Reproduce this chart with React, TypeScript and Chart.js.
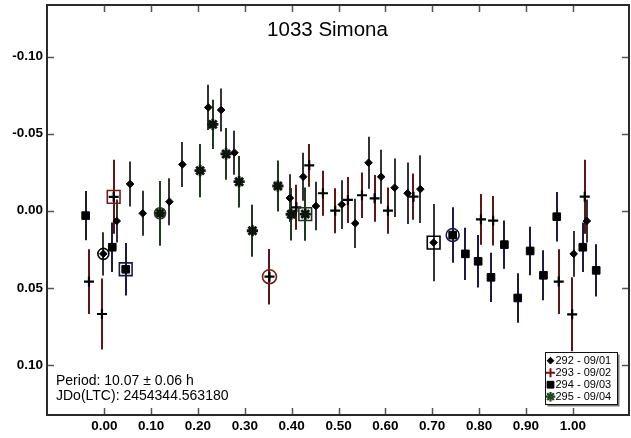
import React, { useEffect, useRef } from 'react';
import { Chart, registerables } from 'chart.js';
import { drawPoint } from 'chart.js/helpers';

Chart.register(...registerables);

// Session 292 (2007-09-01): rotational phase, relative magnitude, 1-sigma error
const phase292 = [-0.002, 0.0265, 0.055, 0.082, 0.139, 0.1667, 0.222, 0.2494, 0.2778, 0.396, 0.4246, 0.4517, 0.507, 0.5357, 0.564, 0.591, 0.6197, 0.6474, 0.6746, 0.703, 1.002, 1.03];
const mag292 = [0.028, 0.0067, -0.0173, 0.0017, -0.0058, -0.03, -0.067, -0.0653, -0.0376, -0.0082, -0.022, -0.003, -0.004, 0.0082, -0.0311, -0.022, -0.0149, -0.0113, -0.014, 0.0207, 0.028, 0.0067];
const err292 = [0.014, 0.014, 0.0146, 0.0146, 0.0152, 0.0146, 0.0146, 0.014, 0.0143, 0.0155, 0.0155, 0.0157, 0.0158, 0.016, 0.0168, 0.0175, 0.019, 0.02, 0.022, 0.025, 0.0148, 0.014];

// Session 293 (2007-09-02)
const phase293 = [-0.0327, -0.005, 0.02, 0.3526, 0.41, 0.4374, 0.4667, 0.4929, 0.52, 0.55, 0.577, 0.6055, 0.66, 0.804, 0.83, 0.97, 0.9987, 1.0256];
const mag293 = [0.046, 0.067, -0.009, 0.0428, -0.0022, -0.0294, -0.0113, 0.0, -0.007, -0.01, -0.008, 0.0, -0.0091, 0.0056, 0.0065, 0.046, 0.0672, -0.0091];
const err293 = [0.021, 0.023, 0.024, 0.018, 0.0146, 0.0138, 0.0146, 0.0146, 0.0149, 0.0148, 0.0151, 0.015, 0.015, 0.0165, 0.016, 0.021, 0.024, 0.024];

// Session 294 (2007-09-03)
const phase294 = [-0.0398, 0.017, 0.0457, 0.7436, 0.7707, 0.798, 0.8254, 0.854, 0.8825, 0.909, 0.9374, 0.9658, 1.0214, 1.05];
const mag294 = [0.0032, 0.0237, 0.038, 0.0158, 0.028, 0.0328, 0.0432, 0.022, 0.0566, 0.0261, 0.0419, 0.0039, 0.0237, 0.0387];
const err294 = [0.016, 0.016, 0.017, 0.018, 0.017, 0.017, 0.016, 0.0156, 0.016, 0.0157, 0.0162, 0.016, 0.016, 0.017];

// Session 295 (2007-09-04)
const phase295 = [0.119, 0.2045, 0.2316, 0.26, 0.2878, 0.3162, 0.3705, 0.399, 0.4289];
const mag295 = [0.0017, -0.026, -0.056, -0.0368, -0.0188, 0.013, -0.016, 0.0023, 0.0022];
const err295 = [0.021, 0.0173, 0.016, 0.0168, 0.0167, 0.0168, 0.0165, 0.017, 0.0173];

// Marked observations per session (index into each session's arrays)
const circledIndex = [0, 3, 3, 0];
const boxedIndex = [19, 2, 2, 8];

const sessionLabels = ['292 - 09/01', '293 - 09/02', '294 - 09/03', '295 - 09/04'];

const xTickValues = [0, 0.1, 0.2, 0.3, 0.4, 0.5, 0.6, 0.7, 0.8, 0.9, 1.0];
const yTickValues = [-0.1, -0.05, 0, 0.05, 0.1];

const titleText = '1033 Simona';
const periodText = 'Period: 10.07 \u00b1 0.06 h';
const epochText = 'JDo(LTC): 2454344.563180';

const FONT = "Arial, 'Liberation Sans', Helvetica, sans-serif";

const sessions = [
  { phase: phase292, mag: mag292, err: err292, barColor: '#333333', markColor: '#000000',
    style: { pointStyle: 'rectRot', radius: 3.8, backgroundColor: '#000', borderColor: '#000', borderWidth: 1 },
    legend: { pointStyle: 'rectRot', radius: 3.4, fill: '#000', stroke: '#000', lw: 1 }, circleR: 5.5 },
  { phase: phase293, mag: mag293, err: err293, barColor: '#5e1616', markColor: '#6e2020',
    style: { pointStyle: 'cross', radius: 5, backgroundColor: '#000', borderColor: '#000', borderWidth: 2.2 },
    legend: { pointStyle: 'cross', radius: 4.5, fill: '#7a1010', stroke: '#7a1010', lw: 2 }, circleR: 7 },
  { phase: phase294, mag: mag294, err: err294, barColor: '#1c1c42', markColor: '#1c1c42',
    style: { pointStyle: 'rect', radius: 5.4, backgroundColor: '#000', borderColor: '#000', borderWidth: 1 },
    legend: { pointStyle: 'rect', radius: 4.8, fill: '#000', stroke: '#000', lw: 1 }, circleR: 6.5 },
  { phase: phase295, mag: mag295, err: err295, barColor: '#1f3b1f', markColor: '#1f3b1f',
    style: { pointStyle: 'star', radius: 5.6, backgroundColor: '#0b150b', borderColor: '#0b150b', borderWidth: 2.8 },
    legend: { pointStyle: 'star', radius: 4.8, fill: '#1d4a1d', stroke: '#1d4a1d', lw: 2.2 }, circleR: 5.5 },
];

function toPoints(xs: number[], ys: number[]) {
  return xs.map((x, i) => ({ x, y: ys[i] }));
}

const fmt = (v: number) => (Math.abs(v) < 1e-9 ? '0.00' : v.toFixed(2));

const noScalePadding = (scale: any) => {
  scale.paddingLeft = 0;
  scale.paddingRight = 0;
  scale.paddingTop = 0;
  scale.paddingBottom = 0;
};

const decorations = {
  id: 'decorations',
  beforeDatasetsDraw(chart: any) {
    const { ctx, scales } = chart;
    const xs = scales.x;
    const ys = scales.y;
    chart.data.datasets.forEach((ds: any) => {
      if (!ds.errors) return;
      ctx.save();
      ctx.strokeStyle = ds.barColor;
      ctx.lineWidth = 2;
      ds.data.forEach((p: any, j: number) => {
        const px = Math.round(xs.getPixelForValue(p.x));
        ctx.beginPath();
        ctx.moveTo(px, ys.getPixelForValue(p.y - ds.errors[j]));
        ctx.lineTo(px, ys.getPixelForValue(p.y + ds.errors[j]));
        ctx.stroke();
      });
      ctx.restore();
    });
  },
  afterDraw(chart: any) {
    const { ctx, chartArea: a, scales } = chart;
    const xs = scales.x;
    const ys = scales.y;
    ctx.save();

    // inward tick marks on all four sides
    ctx.strokeStyle = '#555';
    ctx.lineWidth = 1.5;
    const tl = 7;
    xTickValues.forEach((v) => {
      const px = Math.round(xs.getPixelForValue(v)) + 0.5;
      ctx.beginPath();
      ctx.moveTo(px, a.top); ctx.lineTo(px, a.top + tl);
      ctx.moveTo(px, a.bottom); ctx.lineTo(px, a.bottom - tl);
      ctx.stroke();
    });
    yTickValues.forEach((v) => {
      const py = Math.round(ys.getPixelForValue(v)) + 0.5;
      ctx.beginPath();
      ctx.moveTo(a.left, py); ctx.lineTo(a.left + tl, py);
      ctx.moveTo(a.right, py); ctx.lineTo(a.right - tl, py);
      ctx.stroke();
    });

    // plot frame
    ctx.strokeStyle = '#2a2a2a';
    ctx.lineWidth = 2;
    ctx.strokeRect(a.left, a.top, a.right - a.left, a.bottom - a.top);

    // title inside the frame
    ctx.fillStyle = '#000';
    ctx.textAlign = 'center';
    ctx.textBaseline = 'alphabetic';
    ctx.font = `20.5px ${FONT}`;
    ctx.fillText(titleText, 327.5, 36);

    // period / epoch note
    ctx.textAlign = 'left';
    ctx.font = `14px ${FONT}`;
    ctx.fillText(periodText, 56, 385);
    ctx.fillText(epochText, 56, 400);

    // legend box with drop shadow
    const lx = 545, ly = 352, lw = 72, lh = 52;
    ctx.fillStyle = '#777';
    ctx.fillRect(lx + 2.5, ly + 2.5, lw, lh);
    ctx.fillStyle = '#fff';
    ctx.fillRect(lx, ly, lw, lh);
    ctx.strokeStyle = '#111';
    ctx.lineWidth = 1;
    ctx.strokeRect(lx + 0.5, ly + 0.5, lw, lh);
    ctx.font = `11px ${FONT}`;
    ctx.textBaseline = 'middle';
    sessions.forEach((s, i) => {
      const cy = 360.7 + i * 12;
      ctx.fillStyle = s.legend.fill;
      ctx.strokeStyle = s.legend.stroke;
      ctx.lineWidth = s.legend.lw;
      drawPoint(ctx, { pointStyle: s.legend.pointStyle, radius: s.legend.radius, borderWidth: s.legend.lw, rotation: 0 } as any, 550.5, cy);
      ctx.fillStyle = '#000';
      ctx.fillText(sessionLabels[i], 555.5, cy + 0.5);
    });
    ctx.restore();
  },
};

export default function App() {
  const canvasRef = useRef<HTMLCanvasElement | null>(null);

  useEffect(() => {
    const canvas = canvasRef.current;
    if (!canvas) return;

    const datasets: any[] = [];
    // circled and boxed markers drawn above the plain ones
    sessions.forEach((s, i) => {
      const ci = circledIndex[i];
      const bi = boxedIndex[i];
      datasets.push({
        label: `circ${i}`,
        data: [{ x: s.phase[ci], y: s.mag[ci] }],
        pointStyle: 'circle', pointRadius: s.circleR, pointBackgroundColor: 'rgba(0,0,0,0)',
        pointBorderColor: s.markColor, pointBorderWidth: 1.6, showLine: false,
      });
      datasets.push({
        label: `box${i}`,
        data: [{ x: s.phase[bi], y: s.mag[bi] }],
        pointStyle: 'rect', pointRadius: 9, pointBackgroundColor: 'rgba(0,0,0,0)',
        pointBorderColor: s.markColor, pointBorderWidth: 1.6, showLine: false,
      });
    });
    sessions.forEach((s, i) => {
      datasets.push({
        label: sessionLabels[i],
        data: toPoints(s.phase, s.mag),
        errors: s.err,
        barColor: s.barColor,
        pointStyle: s.style.pointStyle,
        pointRadius: s.style.radius,
        pointBackgroundColor: s.style.backgroundColor,
        pointBorderColor: s.style.borderColor,
        pointBorderWidth: s.style.borderWidth,
        showLine: false,
      });
    });

    const chart = new Chart(canvas, {
      type: 'scatter',
      data: { datasets },
      options: {
        responsive: false,
        animation: false,
        events: [],
        layout: { autoPadding: false, padding: { top: 5, right: 2, left: 0, bottom: 0 } },
        plugins: { legend: { display: false }, tooltip: { enabled: false }, title: { display: false } },
        scales: {
          x: {
            type: 'linear',
            min: -0.1223,
            max: 1.12,
            grid: { display: false, drawTicks: false },
            border: { display: false },
            afterBuildTicks: (scale: any) => { scale.ticks = xTickValues.map((v) => ({ value: v })); },
            afterFit: (scale: any) => { scale.height = 23; noScalePadding(scale); },
            ticks: {
              autoSkip: false,
              maxRotation: 0,
              padding: 3,
              color: '#000',
              font: { family: FONT, size: 13.5, weight: 'bold' },
              callback: (v: any) => fmt(Number(v)),
            },
          },
          y: {
            type: 'linear',
            reverse: true,
            min: -0.1334,
            max: 0.1325,
            grid: { display: false, drawTicks: false },
            border: { display: false },
            afterBuildTicks: (scale: any) => { scale.ticks = yTickValues.map((v) => ({ value: v })); },
            afterFit: (scale: any) => { scale.width = 47; noScalePadding(scale); },
            ticks: {
              autoSkip: false,
              padding: 4,
              color: '#000',
              font: { family: FONT, size: 13.5, weight: 'bold' },
              callback: (v: any) => fmt(Number(v)),
            },
          },
        },
      },
      plugins: [decorations],
    } as any);

    return () => chart.destroy();
  }, []);

  return (
    <div style={{ position: 'fixed', left: 0, top: 0, width: 631, height: 438, background: '#fff' }}>
      <canvas ref={canvasRef} width={631} height={438} style={{ display: 'block' }} />
    </div>
  );
}
